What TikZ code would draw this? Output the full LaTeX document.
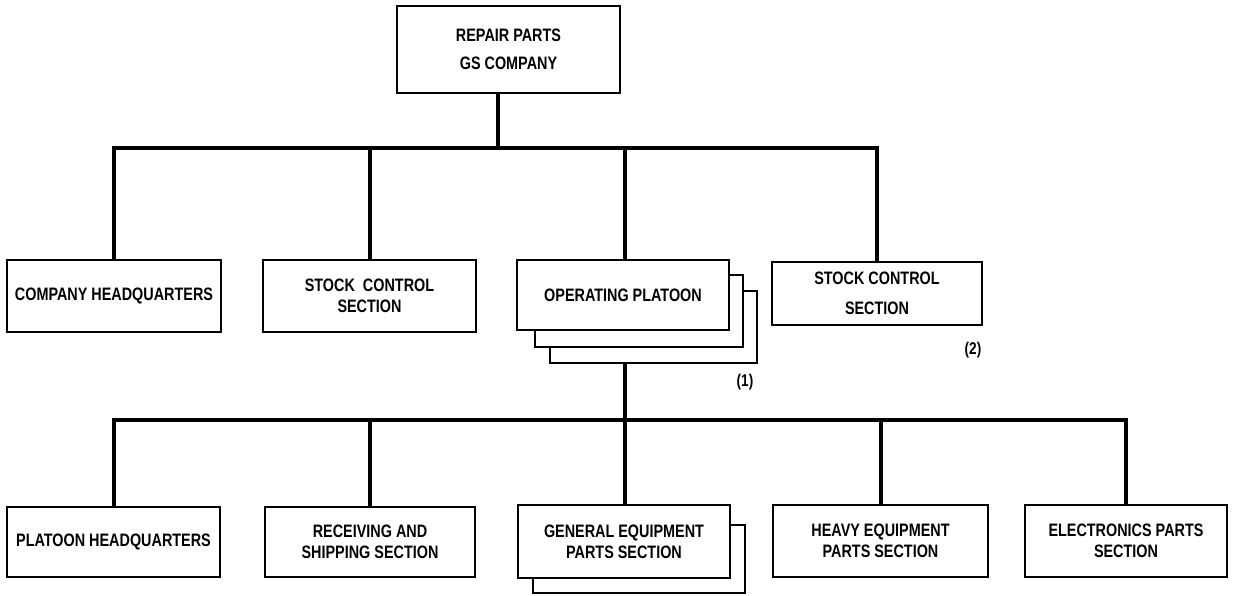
\documentclass[tikz,border=0pt]{standalone}
\usepackage{fontspec}
\setmainfont{Liberation Sans}[FakeStretch=0.8,BoldFeatures={FakeStretch=0.8}]
\begin{document}
\begin{tikzpicture}[x=1pt,y=-1pt,
  box/.style={draw=black,line width=2.5pt,fill=white,inner sep=2pt,align=center,
    font=\fontsize{18}{21}\selectfont\bfseries},
  layer/.style={draw=black,line width=2.5pt,fill=white,inner sep=0pt},
  conn/.style={line width=4pt,line cap=rect},
  note/.style={font=\fontsize{17}{20}\selectfont\bfseries,inner sep=0pt}]
\useasboundingbox (0,0) rectangle (1236,595);
% top
\node[box,minimum width=223,minimum height=87] (top) at (508.5,49.5) {REPAIR PARTS\\[7pt]GS COMPANY};
% level 2
\node[box,minimum width=214,minimum height=72] (chq) at (114,296) {COMPANY\ HEADQUARTERS};
\node[box,minimum width=213,minimum height=72] (sc) at (369.5,296) {STOCK\ \ CONTROL\\SECTION};
\node[layer,minimum width=207,minimum height=72] (op3) at (653.5,327) {};
\node[layer,minimum width=208,minimum height=72] (op2) at (639,311) {};
\node[box,minimum width=212,minimum height=70] (op) at (623,295) {OPERATING PLATOON};
\node[box,minimum width=210,minimum height=63] (sc2) at (877,293.5) {STOCK CONTROL\\[9pt]SECTION};
\node[note] (n1) at (745,382) {(1)};
\node[note] (n2) at (973,350) {(2)};
% level 3
\node[box,minimum width=213,minimum height=70] (phq) at (113.5,542) {PLATOON HEADQUARTERS};
\node[box,minimum width=210,minimum height=70] (rs) at (370,542) {RECEIVING AND\\SHIPPING SECTION};
\node[layer,minimum width=212,minimum height=68] (ge2) at (639,559) {};
\node[box,minimum width=212,minimum height=73] (ge) at (624,541.5) {GENERAL EQUIPMENT\\PARTS SECTION};
\node[box,minimum width=215,minimum height=72] (he) at (880.5,541) {HEAVY EQUIPMENT\\PARTS SECTION};
\node[box,minimum width=202,minimum height=72] (el) at (1126,541) {ELECTRONICS PARTS\\SECTION};
% bars
\coordinate (bar1) at (498,148);
\coordinate (bar2) at (625,420);
% connectors
\draw[conn] (top.south -| bar1) -- (bar1);
\draw[conn] (chq.north) |- (bar1);
\draw[conn] (sc.north) |- (bar1);
\draw[conn] (op.north -| bar2) |- (bar1);
\draw[conn] (sc2.north) |- (bar1);
\draw[conn] (op3.south -| bar2) -- (bar2);
\draw[conn] (phq.north) |- (bar2);
\draw[conn] (rs.north) |- (bar2);
\draw[conn] (ge.north -| bar2) -- (bar2);
\draw[conn] (he.north) |- (bar2);
\draw[conn] (el.north) |- (bar2);
\end{tikzpicture}
\end{document}
